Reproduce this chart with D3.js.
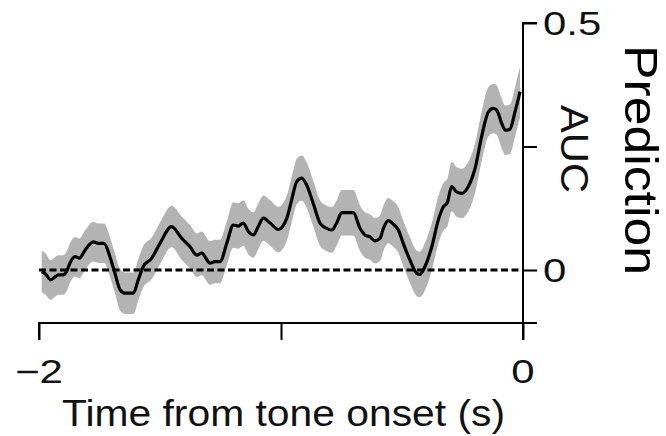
<!DOCTYPE html>
<html>
<head>
<meta charset="utf-8">
<script src="https://cdn.jsdelivr.net/npm/d3@7"></script>
<style>
  html, body { margin: 0; padding: 0; background: #fff; }
  svg { display: block; font-family: "Liberation Sans", Arial, Helvetica, sans-serif; }
</style>
</head>
<body>
<svg id="chart" width="666" height="436"></svg>
<script>
// Time from tone onset (s)
const time = [-1.989,-1.975,-1.952,-1.934,-1.920,-1.900,-1.886,-1.872,-1.851,-1.833,
  -1.810,-1.776,-1.755,-1.731,-1.707,-1.686,-1.665,-1.645,-1.610,-1.590,
  -1.569,-1.534,-1.500,-1.452,-1.410,-1.376,-1.348,-1.328,-1.293,-1.273,
  -1.252,-1.224,-1.197,-1.176,-1.156,-1.135,-1.114,-1.094,-1.073,-1.045,
  -1.011,-0.976,-0.956,-0.935,-0.914,-0.894,-0.867,-0.839,-0.818,-0.790,
  -0.770,-0.749,-0.701,-0.674,-0.653,-0.632,-0.612,-0.591,-0.577,-0.557,
  -0.536,-0.515,-0.495,-0.467,-0.439,-0.426,-0.405,-0.377,-0.350,-0.329,
  -0.313,-0.295,-0.274,-0.253,-0.226,-0.198,-0.171,-0.143,-0.123,-0.109,
  -0.088,-0.074,-0.054,-0.033,-0.012];
// Prediction AUC (mean)
const auc = [-0.003,-0.007,-0.020,-0.014,-0.010,-0.010,-0.003,0.014,0.027,0.024,
  0.040,0.057,0.054,0.054,0.027,-0.007,-0.040,-0.047,-0.047,-0.020,
  0.007,0.024,0.054,0.088,0.064,0.047,0.030,0.034,0.014,0.017,
  0.017,0.054,0.091,0.089,0.095,0.078,0.071,0.088,0.105,0.095,
  0.082,0.105,0.142,0.179,0.186,0.172,0.135,0.095,0.086,0.081,
  0.095,0.116,0.116,0.085,0.071,0.067,0.059,0.064,0.084,0.100,
  0.093,0.081,0.054,0.020,-0.007,-0.009,0.007,0.047,0.101,0.128,
  0.136,0.169,0.158,0.155,0.169,0.206,0.270,0.320,0.327,0.324,
  0.297,0.283,0.285,0.320,0.361];
// Error band half-width (s.e.m.)
const sem = [0.042,0.042,0.040,0.040,0.040,0.040,0.040,0.040,0.040,0.040,
  0.040,0.040,0.040,0.040,0.040,0.040,0.042,0.042,0.042,0.042,
  0.042,0.042,0.042,0.042,0.044,0.044,0.044,0.044,0.044,0.044,
  0.044,0.044,0.046,0.046,0.046,0.046,0.046,0.046,0.046,0.046,
  0.046,0.046,0.046,0.046,0.046,0.046,0.046,0.046,0.046,0.046,
  0.046,0.046,0.046,0.046,0.046,0.046,0.046,0.046,0.046,0.046,
  0.046,0.046,0.046,0.046,0.046,0.046,0.048,0.048,0.048,0.048,
  0.048,0.050,0.050,0.050,0.050,0.050,0.050,0.050,0.050,0.050,
  0.050,0.050,0.050,0.050,0.052];
const xTicks = [-2, -1, 0];
const xTickLabels = ["\u22122", "", "0"];
const yTicks = [0, 0.25, 0.5];
const yTickLabels = ["0", "", "0.5"];
const xTitle = "Time from tone onset (s)";
const yTitle = "Prediction";
const yUnit = "AUC";

const data = time.map((t, i) => ({ t, v: auc[i], lo: auc[i] - sem[i], hi: auc[i] + sem[i] }));

const svg = d3.select("#chart");
const x = d3.scaleLinear().domain([-2, 0]).range([39, 523]);
const y = d3.scaleLinear().domain([0, 0.5]).range([270, 23]);
const axisY = 323;   // vertical position of x axis
const axisX = 523;   // horizontal position of y axis

// error band
svg.append("path")
  .datum(data)
  .attr("fill", "#b3b3b3")
  .attr("d", d3.area().curve(d3.curveMonotoneX)
    .x(d => x(d.t)).y0(d => y(d.lo)).y1(d => y(d.hi)));

// zero reference line
svg.append("line")
  .attr("x1", x(-2)).attr("x2", axisX)
  .attr("y1", y(0)).attr("y2", y(0))
  .attr("stroke", "#000").attr("stroke-width", 3)
  .attr("stroke-dasharray", "7,3.5");

// mean line
svg.append("path")
  .datum(data)
  .attr("fill", "none")
  .attr("stroke", "#000")
  .attr("stroke-width", 3.2)
  .attr("stroke-linejoin", "round")
  .attr("d", d3.line().curve(d3.curveMonotoneX).x(d => x(d.t)).y(d => y(d.v)));

// x axis
const xAxis = svg.append("g").attr("transform", `translate(0,${axisY})`)
  .call(d3.axisBottom(x).tickValues(xTicks).tickSize(17).tickFormat(""));
xAxis.select(".domain").attr("d", `M${x(-2)},17V0H${axisX + 14}`);
xAxis.selectAll("line, path").attr("stroke", "#000").attr("stroke-width", 2);

// y axis
const yAxis = svg.append("g").attr("transform", `translate(${axisX},0)`)
  .call(d3.axisRight(y).tickValues(yTicks).tickSize(14).tickFormat(""));
yAxis.select(".domain").attr("d", `M14,${y(0.5)}H0V${axisY + 17}`);
yAxis.selectAll("line, path").attr("stroke", "#000").attr("stroke-width", 2);

// x tick labels
xTicks.forEach((t, i) => {
  if (!xTickLabels[i]) return;
  svg.append("text")
    .attr("transform", `translate(${x(t)},383) scale(1.27,1)`)
    .attr("text-anchor", "middle")
    .attr("font-size", 33)
    .attr("fill", "#111")
    .text(xTickLabels[i]);
});

// y tick labels
yTicks.forEach((t, i) => {
  if (!yTickLabels[i]) return;
  svg.append("text")
    .attr("transform", `translate(543,${y(t) + 11.5}) scale(1.27,1)`)
    .attr("text-anchor", "start")
    .attr("font-size", 33)
    .attr("fill", "#111")
    .text(yTickLabels[i]);
});

// x title
svg.append("text")
  .attr("x", 62).attr("y", 426)
  .attr("font-size", 36)
  .attr("fill", "#111")
  .attr("textLength", 443)
  .attr("lengthAdjust", "spacingAndGlyphs")
  .text(xTitle);

// y unit (AUC)
svg.append("text")
  .attr("transform", "translate(561,105) rotate(90)")
  .attr("font-size", 38)
  .attr("fill", "#111")
  .attr("textLength", 88)
  .attr("lengthAdjust", "spacingAndGlyphs")
  .text(yUnit);

// y title (Prediction)
svg.append("text")
  .attr("transform", "translate(625,45) rotate(90)")
  .attr("font-size", 46)
  .attr("fill", "#000")
  .attr("textLength", 230)
  .attr("lengthAdjust", "spacingAndGlyphs")
  .text(yTitle);
</script>
</body>
</html>
